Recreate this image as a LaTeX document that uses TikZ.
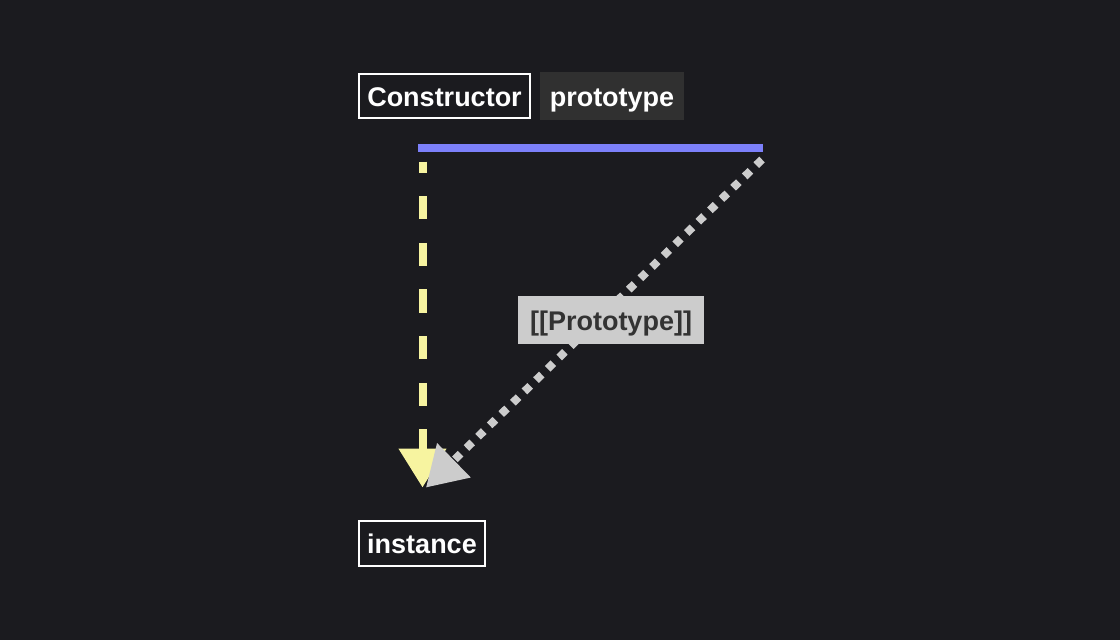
\documentclass[tikz,border=0pt]{standalone}
\usepackage{fontspec}
\setmainfont{Liberation Sans}
\usetikzlibrary{arrows.meta}
\definecolor{bgc}{HTML}{1B1B1F}
\definecolor{boxdark}{HTML}{303030}
\definecolor{linkblue}{HTML}{7C80FA}
\definecolor{yel}{HTML}{F7F4A0}
\definecolor{gry}{HTML}{CCCCCC}
\definecolor{lbltext}{HTML}{333333}
\begin{document}
\begin{tikzpicture}[x=0.75pt,y=-0.75pt,
  txt/.style={font=\fontsize{20.25pt}{24pt}\selectfont\bfseries, inner sep=0pt,
    text height=15pt, text depth=0pt, anchor=center},
  outlinebox/.style={txt, draw=white, line width=1.5pt, fill=bgc, text=white},
  darkbox/.style={txt, fill=boxdark, text=white},
  lblbox/.style={txt, fill=gry, text=lbltext},
  headtip/.style={-{Triangle[length=29.25pt,width=34.5pt]}},
  bluelink/.style={draw=linkblue, line width=5.5pt},
  yellink/.style={draw=yel, line width=6pt, dash pattern=on 17.5pt off 17.5pt, dash phase=9.2pt, headtip},
  grylink/.style={draw=gry, line width=6pt, dash pattern=on 6pt off 6.15pt, headtip}
]
\fill[bgc] (0,0) rectangle (1120,640);
\useasboundingbox (0,0) rectangle (1120,640);

\node[outlinebox, minimum width=128.25pt, minimum height=33pt] (ctor) at (444.5,96) {Constructor};
\node[darkbox, minimum width=108pt, minimum height=36pt] (proto) at (612,96) {prototype};
\node[outlinebox, minimum width=94.5pt, minimum height=33.75pt] (inst) at (422,543.5) {instance};

\coordinate (bl) at (418,148);
\coordinate (br) at (763,148);
\coordinate (ys) at (422.5,161.7);
\coordinate (yt) at (422.5,487.5);
\coordinate (gs) at (762,159.5);
\coordinate (gt) at (426,487.5);

\draw[bluelink] (bl) -- (br);
\draw[yellink] (ys) -- (yt);
\draw[grylink] (gs) -- (gt);

\node[lblbox, minimum width=139.5pt, minimum height=35.6pt] (lbl) at (611,320) {[[Prototype]]};
\end{tikzpicture}
\end{document}
